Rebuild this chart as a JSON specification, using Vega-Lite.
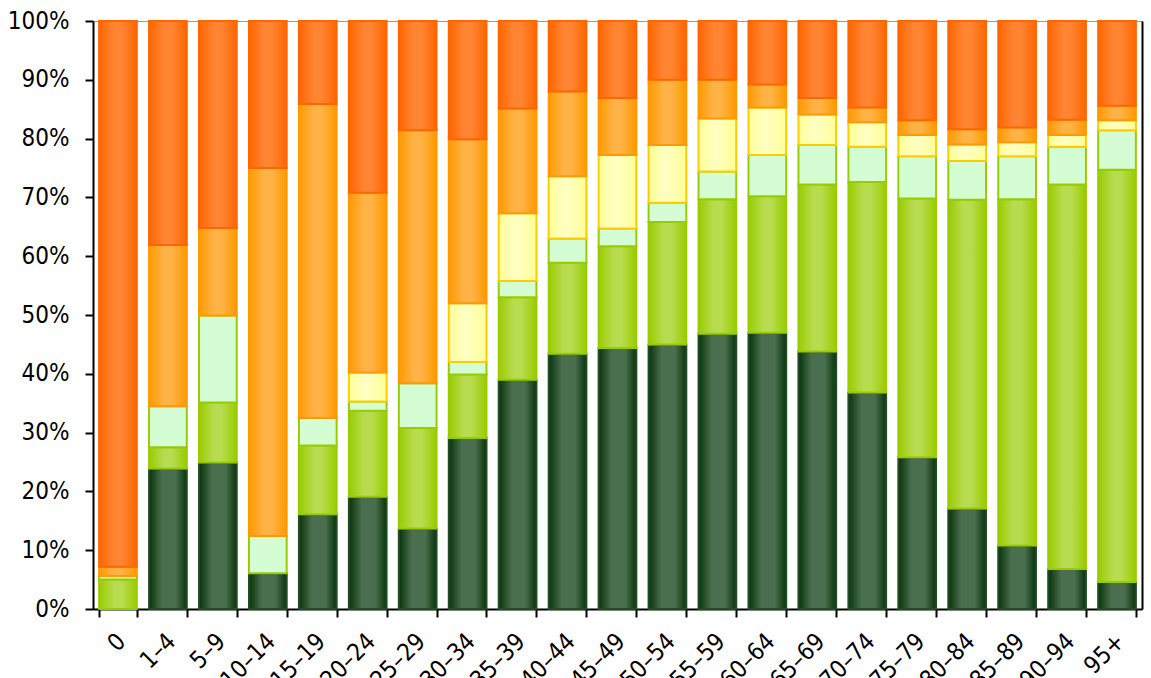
{
  "$schema": "https://vega.github.io/schema/vega-lite/v6.json",
  "width": 1049,
  "height": 588,
  "autosize": "none",
  "padding": {"left": 93, "top": 21, "right": 9, "bottom": 69},
  "background": "white",
  "data": {"values": [
    {"age": "0", "A": 0, "B": 5.0, "C": 0.6, "D": 0, "E": 1.6, "F": 92.8},
    {"age": "1–4", "A": 23.9, "B": 3.6, "C": 7.0, "D": 0, "E": 27.4, "F": 38.1},
    {"age": "5–9", "A": 24.9, "B": 10.2, "C": 14.8, "D": 0, "E": 14.9, "F": 35.2},
    {"age": "10–14", "A": 6.1, "B": 0, "C": 6.3, "D": 0, "E": 62.6, "F": 25.0},
    {"age": "15–19", "A": 16.1, "B": 11.7, "C": 4.7, "D": 0, "E": 53.4, "F": 14.1},
    {"age": "20–24", "A": 19.1, "B": 14.6, "C": 1.6, "D": 4.9, "E": 30.6, "F": 29.2},
    {"age": "25–29", "A": 13.7, "B": 17.1, "C": 7.6, "D": 0, "E": 43.0, "F": 18.6},
    {"age": "30–34", "A": 29.1, "B": 10.8, "C": 2.1, "D": 10.0, "E": 27.9, "F": 20.1},
    {"age": "35–39", "A": 39.0, "B": 14.0, "C": 2.8, "D": 11.5, "E": 17.8, "F": 14.9},
    {"age": "40–44", "A": 43.4, "B": 15.5, "C": 4.1, "D": 10.6, "E": 14.4, "F": 12.0},
    {"age": "45–49", "A": 44.4, "B": 17.3, "C": 3.0, "D": 12.5, "E": 9.7, "F": 13.1},
    {"age": "50–54", "A": 45.0, "B": 20.8, "C": 3.3, "D": 9.8, "E": 11.1, "F": 10.0},
    {"age": "55–59", "A": 46.8, "B": 22.9, "C": 4.7, "D": 9.0, "E": 6.6, "F": 10.0},
    {"age": "60–64", "A": 47.0, "B": 23.2, "C": 7.0, "D": 8.1, "E": 3.9, "F": 10.8},
    {"age": "65–69", "A": 43.8, "B": 28.4, "C": 6.7, "D": 5.2, "E": 2.8, "F": 13.1},
    {"age": "70–74", "A": 36.8, "B": 35.8, "C": 6.0, "D": 4.2, "E": 2.5, "F": 14.7},
    {"age": "75–79", "A": 25.8, "B": 44.0, "C": 7.2, "D": 3.6, "E": 2.5, "F": 16.9},
    {"age": "80–84", "A": 17.1, "B": 52.5, "C": 6.6, "D": 2.8, "E": 2.6, "F": 18.4},
    {"age": "85–89", "A": 10.8, "B": 58.9, "C": 7.3, "D": 2.4, "E": 2.5, "F": 18.1},
    {"age": "90–94", "A": 6.8, "B": 65.4, "C": 6.4, "D": 2.0, "E": 2.6, "F": 16.8},
    {"age": "95+", "A": 4.6, "B": 70.1, "C": 6.7, "D": 1.7, "E": 2.5, "F": 14.4}
  ]},
  "transform": [
    {"fold": ["A", "B", "C", "D", "E", "F"], "as": ["s", "v"]},
    {"filter": "datum.v > 0"}
  ],
  "encoding": {
    "x": {
      "field": "age", "type": "nominal", "sort": null,
      "scale": {"paddingInner": 0.245, "paddingOuter": 0.1225},
      "axis": {
        "title": null, "tickBand": "extent", "tickSize": 8, "tickWidth": 2, "tickColor": "black",
        "domainColor": "black", "domainWidth": 2, "labelAngle": -45,
        "labelFont": "DejaVu Sans Condensed, sans-serif",
        "labelFontSize": 24, "labelColor": "black", "labelPadding": 12, "labelOffset": -5
      }
    }
  },
  "layer": [
    {
      "mark": {"type": "bar", "strokeWidth": 2},
      "encoding": {
        "y": {
          "field": "v", "type": "quantitative", "stack": "normalize",
          "scale": {"domain": [0, 1]},
          "axis": {
            "title": null, "format": ".0%", "values": [0, 0.1, 0.2, 0.3, 0.4, 0.5, 0.6, 0.7, 0.8, 0.9, 1],
            "grid": false, "tickSize": 8, "tickWidth": 2, "tickColor": "black", "domainColor": "black",
            "domainWidth": 2, "labelFont": "DejaVu Sans Condensed, sans-serif",
            "labelFontSize": 24, "labelColor": "black", "labelPadding": 16
          }
        },
        "fill": {
          "condition": [
            {"test": "datum.s === 'A'", "value": {"gradient": "linear", "x1": 0, "y1": 0, "x2": 1, "y2": 0, "stops": [{"offset": 0, "color": "#08330a"}, {"offset": 0.35, "color": "#4a6f4e"}, {"offset": 0.7, "color": "#4a6f4e"}, {"offset": 1, "color": "#08330a"}]}},
            {"test": "datum.s === 'B'", "value": {"gradient": "linear", "x1": 0, "y1": 0, "x2": 1, "y2": 0, "stops": [{"offset": 0, "color": "#99cc00"}, {"offset": 0.4, "color": "#b8dc50"}, {"offset": 0.6, "color": "#b8dc50"}, {"offset": 1, "color": "#99cc00"}]}},
            {"test": "datum.s === 'C'", "value": "#d4fdd4"},
            {"test": "datum.s === 'D'", "value": {"gradient": "linear", "x1": 0, "y1": 0, "x2": 1, "y2": 0, "stops": [{"offset": 0, "color": "#ffff99"}, {"offset": 0.45, "color": "#ffffc4"}, {"offset": 1, "color": "#ffff99"}]}},
            {"test": "datum.s === 'E'", "value": {"gradient": "linear", "x1": 0, "y1": 0, "x2": 1, "y2": 0, "stops": [{"offset": 0, "color": "#ff9900"}, {"offset": 0.4, "color": "#ffb347"}, {"offset": 0.6, "color": "#ffb347"}, {"offset": 1, "color": "#ff9900"}]}}
          ],
          "value": {"gradient": "linear", "x1": 0, "y1": 0, "x2": 1, "y2": 0, "stops": [{"offset": 0, "color": "#ff6600"}, {"offset": 0.4, "color": "#ff8533"}, {"offset": 0.6, "color": "#ff8533"}, {"offset": 1, "color": "#ff6600"}]}
        },
        "stroke": {
          "field": "s", "type": "nominal", "legend": null,
          "scale": {
            "domain": ["A", "B", "C", "D", "E", "F"],
            "range": ["#1f4d22", "#99cc00", "#99cc00", "#ffcc00", "#ff9900", "#ff6600"]
          }
        },
        "order": {"field": "s"}
      }
    },
    {
      "mark": {"type": "bar", "opacity": 0},
      "encoding": {
        "y": {
          "field": "v", "type": "quantitative", "stack": "normalize", "scale": {"domain": [0, 1]},
          "axis": {"orient": "right", "title": null, "labels": false, "ticks": false, "grid": false, "domainColor": "black", "domainWidth": 2}
        }
      }
    }
  ],
  "resolve": {"scale": {"y": "independent"}},
  "config": {"view": {"stroke": "#9a9a9a", "strokeWidth": 1}}
}
